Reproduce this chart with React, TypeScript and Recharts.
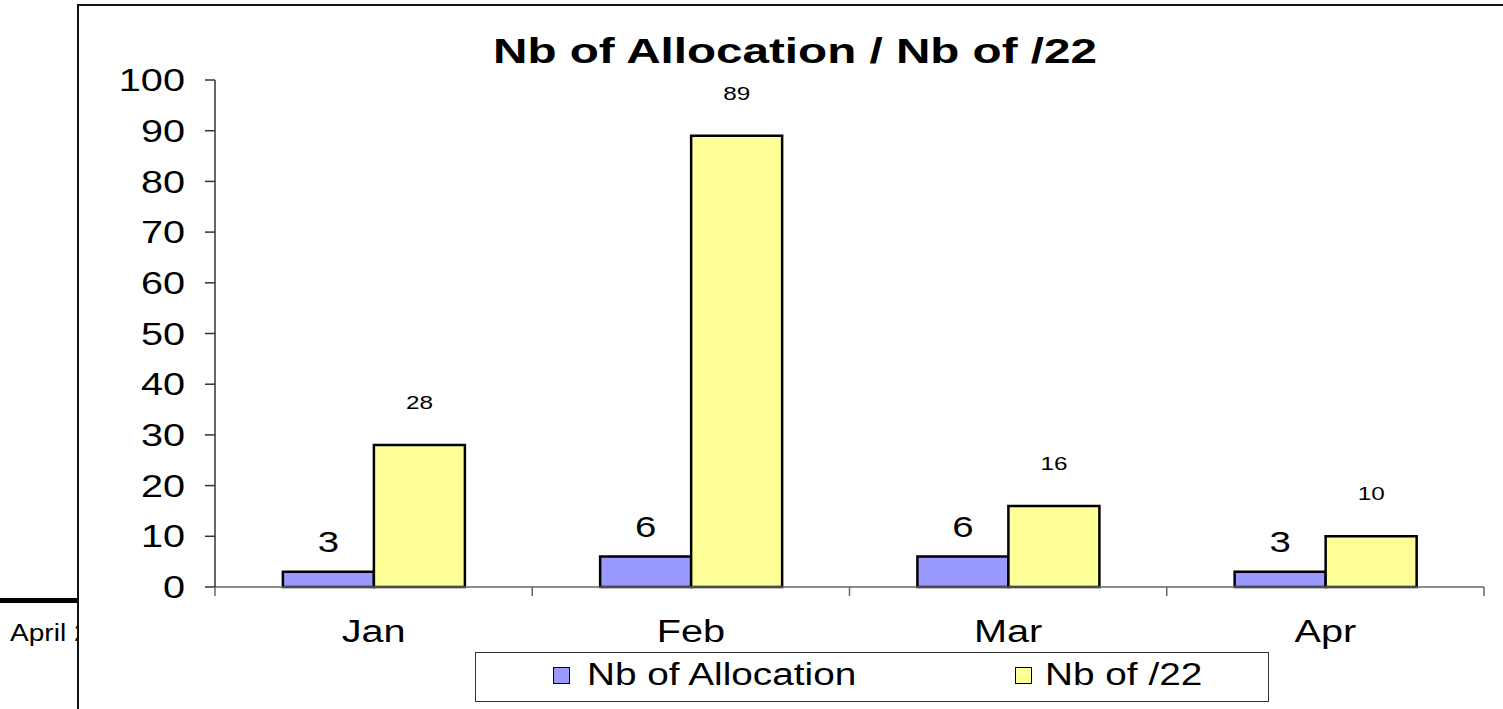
import React from "react";
import { BarChart, Bar, XAxis, YAxis, LabelList } from "recharts";

const months = ["Jan", "Feb", "Mar", "Apr"];
const allocations = [3, 6, 6, 3];
const slash22 = [28, 89, 16, 10];
const yTicks = [0, 10, 20, 30, 40, 50, 60, 70, 80, 90, 100];

const series = [
  { key: "alloc", name: "Nb of Allocation", color: "#9999FF" },
  { key: "s22", name: "Nb of /22", color: "#FFFF99" },
];

const data = months.map((m, i) => ({ month: m, alloc: allocations[i], s22: slash22[i] }));

const FONT = "'Liberation Sans', Arial, sans-serif";
const SX = 1.28; // the source picture is stretched sideways

const W = 1503;
const H = 709;
const PLOT_LEFT = 215;
const PLOT_RIGHT = 1484;
const PLOT_TOP = 80;
const PLOT_BOTTOM = 587;
const Y_AXIS_W = 100;
const X_AXIS_H = 60;

const YTick = (props: any) => {
  const { x, y, payload } = props;
  return (
    <g transform={`translate(${x},${y})`}>
      <text transform={`scale(${SX},1)`} textAnchor="end" dy="0.36em" fontSize={31} fontFamily={FONT} fill="#000">
        {payload.value}
      </text>
    </g>
  );
};

const XTick = (props: any) => {
  const { x, y, payload, index } = props;
  const half = payload.offset ?? (PLOT_RIGHT - PLOT_LEFT) / months.length / 2;
  return (
    <g>
      <line x1={x + half} x2={x + half} y1={y} y2={y + 9} stroke="#666" strokeWidth={1.5} />
      {index === 0 && <line x1={x - half} x2={x - half} y1={y} y2={y + 9} stroke="#666" strokeWidth={1.5} />}
      <g transform={`translate(${x},${y + 55})`}>
        <text transform={`scale(${SX},1)`} textAnchor="middle" fontSize={31} fontFamily={FONT} fill="#000">
          {payload.value}
        </text>
      </g>
    </g>
  );
};

const makeLabel = (size: number, gap: number) => (props: any) => {
  const { x, y, width, value } = props;
  return (
    <g transform={`translate(${x + width / 2},${y - gap})`}>
      <text transform={`scale(${SX},1)`} textAnchor="middle" fontSize={size} fontFamily={FONT} fill="#000">
        {value}
      </text>
    </g>
  );
};

export default function App() {
  return (
    <div style={{ position: "absolute", left: 0, top: 0, width: W, height: H, overflow: "hidden", background: "#fff", fontFamily: FONT }}>
      {/* slide footer, partly hidden behind the chart frame */}
      <div style={{ position: "absolute", left: 0, top: 598, width: 80, height: 5, background: "#000" }} />
      <div style={{ position: "absolute", left: 10, top: 620, fontSize: 23, lineHeight: "26px", transform: "scaleX(1.22)", transformOrigin: "left", whiteSpace: "nowrap" }}>
        April 2005
      </div>

      {/* chart frame */}
      <div style={{ position: "absolute", left: 77, top: 4, width: 1500, height: 800, border: "2px solid #111", background: "#fff" }} />

      <div
        style={{
          position: "absolute",
          left: 795,
          top: 33,
          fontSize: 35,
          fontWeight: "bold",
          lineHeight: 1,
          whiteSpace: "nowrap",
          transform: "translateX(-50%) scaleX(1.36)",
        }}
      >
        Nb of Allocation / Nb of /22
      </div>

      <div style={{ position: "absolute", left: 0, top: 0 }}>
        <BarChart
          width={W}
          height={H}
          data={data}
          barGap={0}
          barCategoryGap="21.4%"
          margin={{ top: PLOT_TOP, right: W - PLOT_RIGHT, bottom: H - PLOT_BOTTOM - X_AXIS_H, left: PLOT_LEFT - Y_AXIS_W }}
        >
          <XAxis
            dataKey="month"
            height={X_AXIS_H}
            tickSize={0}
            tickMargin={0}
            tickLine={false}
            axisLine={{ stroke: "#666", strokeWidth: 1.5 }}
            tick={<XTick />}
            interval={0}
          />
          <YAxis
            width={Y_AXIS_W}
            domain={[0, 100]}
            ticks={yTicks}
            interval={0}
            tickSize={10}
            tickMargin={20}
            tickLine={{ stroke: "#333", strokeWidth: 1.5 }}
            axisLine={{ stroke: "#333", strokeWidth: 1.5 }}
            tick={<YTick />}
          />
          <Bar dataKey="alloc" name={series[0].name} fill={series[0].color} stroke="#000" strokeWidth={2.5} isAnimationActive={false}>
            <LabelList dataKey="alloc" content={makeLabel(30, 20)} />
          </Bar>
          <Bar dataKey="s22" name={series[1].name} fill={series[1].color} stroke="#000" strokeWidth={2.5} isAnimationActive={false}>
            <LabelList dataKey="s22" content={makeLabel(19, 36)} />
          </Bar>
        </BarChart>
      </div>

      {/* legend */}
      <div style={{ position: "absolute", left: 475, top: 652, width: 792, height: 48, border: "1.5px solid #333", background: "#fff" }}>
        {series.map((s, i) => (
          <React.Fragment key={s.key}>
            <div
              style={{
                position: "absolute",
                left: i === 0 ? 77 : 539,
                top: 14,
                width: 15,
                height: 15,
                background: s.color,
                border: "1.5px solid #000",
              }}
            />
            <div
              style={{
                position: "absolute",
                left: i === 0 ? 111 : 569,
                top: 5,
                fontSize: 31,
                lineHeight: "34px",
                whiteSpace: "nowrap",
                transform: "scaleX(1.25)",
                transformOrigin: "left",
              }}
            >
              {s.name}
            </div>
          </React.Fragment>
        ))}
      </div>
    </div>
  );
}
